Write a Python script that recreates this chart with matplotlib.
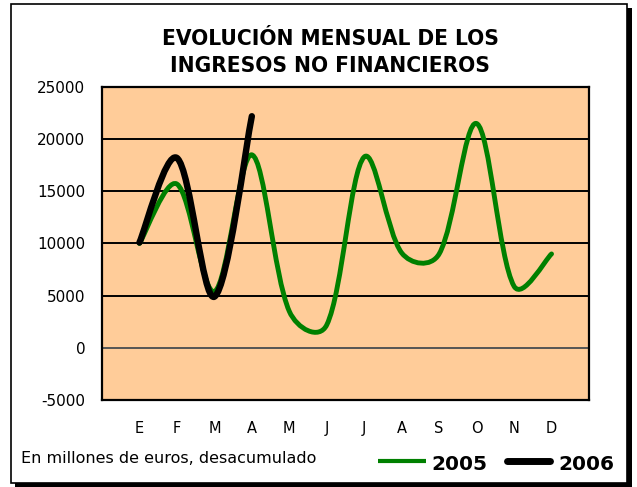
import matplotlib
matplotlib.use("Agg")
import math
import matplotlib.pyplot as plt
from matplotlib.path import Path
from matplotlib.patches import PathPatch, Rectangle
from matplotlib.lines import Line2D

# ---- data ----
months = ["E", "F", "M", "A", "M", "J", "J", "A", "S", "O", "N", "D"]
values_2005 = [10000, 15700, 5400, 18500, 3500, 2200, 18300, 9100, 9000, 21500, 5900, 9000]
values_2006 = [10100, 18200, 4900, 22200]
yticks = [-5000, 0, 5000, 10000, 15000, 20000, 25000]
title_lines = ["EVOLUCIÓN MENSUAL DE LOS", "INGRESOS NO FINANCIEROS"]
note = "En millones de euros, desacumulado"
series_labels = ["2005", "2006"]

W, H = 637, 487
FONT = "DejaVu Sans"
plt.rcParams['font.family'] = [FONT]

fig = plt.figure(figsize=(W / 100, H / 100), dpi=100)


def fx(px):
    return px / W


def fy(py):
    return 1 - py / H


# outer frame with shadow
shadow = Rectangle((fx(15), fy(487)), fx(617), 479 / H,
                   transform=fig.transFigure, facecolor="black", edgecolor="none", zorder=-3)
fig.add_artist(shadow)
frame = Rectangle((fx(11), fy(482.5)), fx(616), 478.5 / H,
                  transform=fig.transFigure, facecolor="white", edgecolor="black",
                  linewidth=1.2, zorder=-2)
fig.add_artist(frame)

ax = fig.add_axes([fx(102), fy(400), fx(589) - fx(102), (400 - 87) / H])
ax.set_facecolor("#FFCC99")
ax.set_xlim(0, 13)
ax.set_ylim(-5000, 25000)
ax.set_yticks(yticks)
ax.set_yticklabels([str(v) for v in yticks], fontsize=11)
x = list(range(1, len(months) + 1))
ax.set_xticks(x)
ax.set_xticklabels(months, fontsize=10.5)
ax.tick_params(axis="both", length=0)
ax.tick_params(axis="y", pad=12)
ax.tick_params(axis="x", pad=15)
for s in ax.spines.values():
    s.set_linewidth(1.6)
    s.set_color("black")
for v in yticks[1:-1]:
    ax.axhline(v, color="#555555" if v == 0 else "black", lw=1.4, zorder=1)


def smooth_path(xs, ys, p=0.5):
    """Excel-like smoothed line: Bezier segments whose tangent lengths are
    moderated by the on-screen lengths of the neighbouring segments."""
    n = len(xs)
    pix = ax.transData.transform(list(zip(xs, ys)))

    def dist(i, j):
        return math.hypot(pix[j][0] - pix[i][0], pix[j][1] - pix[i][1])

    def weight(d_side, d_other, end):
        if end or d_side + d_other == 0:
            return 1.0 / 6
        return (2 * d_side / (d_side + d_other)) ** p / 6

    verts = [(xs[0], ys[0])]
    codes = [Path.MOVETO]
    for i in range(n - 1):
        ip = max(i - 1, 0)
        i2 = min(i + 2, n - 1)
        w1 = weight(dist(i, i + 1), dist(ip, i), i == 0)
        c1 = (xs[i] + (xs[i + 1] - xs[ip]) * w1, ys[i] + (ys[i + 1] - ys[ip]) * w1)
        w2 = weight(dist(i, i + 1), dist(i + 1, i2), i + 1 == n - 1)
        c2 = (xs[i + 1] - (xs[i2] - xs[i]) * w2, ys[i + 1] - (ys[i2] - ys[i]) * w2)
        verts += [c1, c2, (xs[i + 1], ys[i + 1])]
        codes += [Path.CURVE4] * 3
    return Path(verts, codes)


p05 = PathPatch(smooth_path(x, values_2005), facecolor="none", edgecolor="#008000",
                lw=3.5, capstyle="round", joinstyle="round", zorder=3)
ax.add_patch(p05)
p06 = PathPatch(smooth_path(x[:len(values_2006)], values_2006), facecolor="none",
                edgecolor="black", lw=4.6, capstyle="round", joinstyle="round", zorder=4)
ax.add_patch(p06)

# title
fig.text(fx(330), fy(45), title_lines[0], ha="center", va="baseline",
         fontsize=16.2, fontweight="bold", fontstretch="condensed")
fig.text(fx(330), fy(71.5), title_lines[1], ha="center", va="baseline",
         fontsize=16.2, fontweight="bold", fontstretch="condensed")

# note
fig.text(fx(21), fy(463), note, ha="left", va="baseline", fontsize=11.5)

# legend
fig.add_artist(Line2D([fx(378), fx(426)], [fy(461), fy(461)], transform=fig.transFigure,
                      color="#008000", lw=3.0, solid_capstyle="butt"))
fig.text(fx(431), fy(470), series_labels[0], ha="left", va="baseline",
         fontsize=14.5, fontweight="bold")
fig.add_artist(Line2D([fx(507), fx(550)], [fy(461), fy(461)], transform=fig.transFigure,
                      color="black", lw=5.0, solid_capstyle="round"))
fig.text(fx(558), fy(470), series_labels[1], ha="left", va="baseline",
         fontsize=14.5, fontweight="bold")

fig.savefig("out.png", dpi=100)
